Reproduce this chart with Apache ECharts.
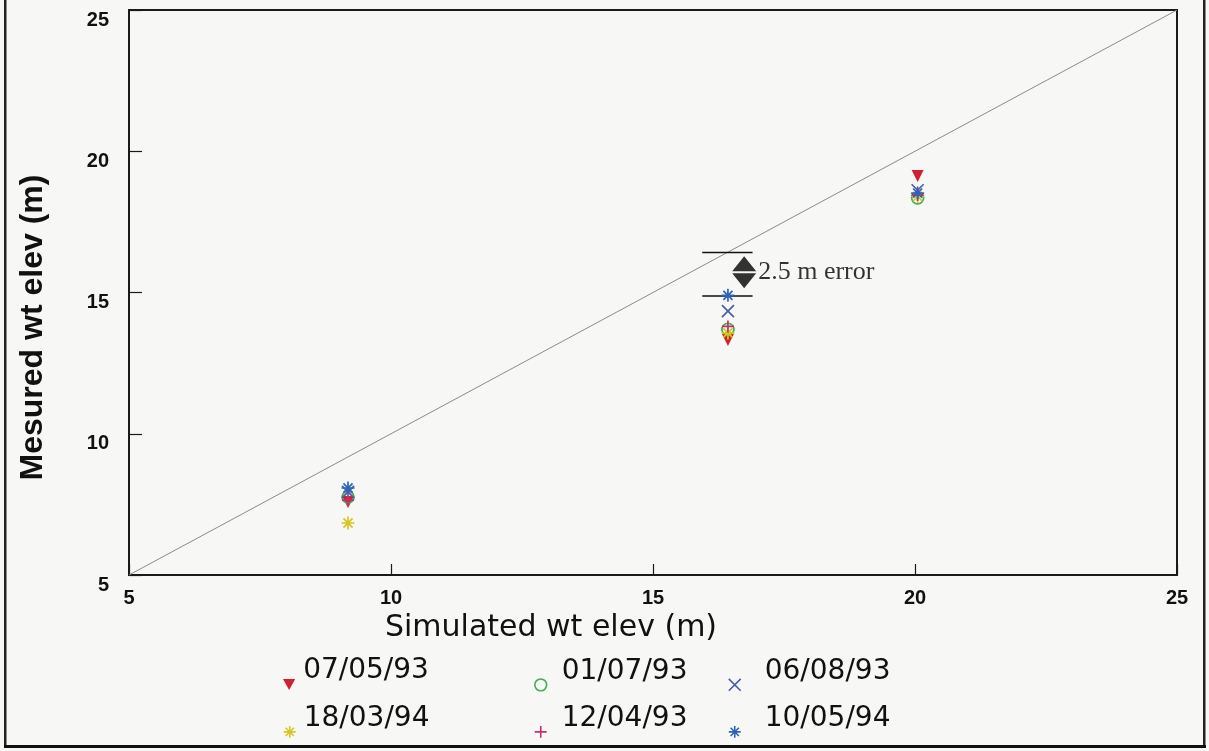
<!DOCTYPE html>
<html>
<head>
<meta charset="utf-8">
<script src="https://cdn.jsdelivr.net/npm/echarts@6/dist/echarts.min.js"></script>
<style>
html,body{margin:0;padding:0;background:#f7f8f6;}
#c{width:1209px;height:751px;}
</style>
</head>
<body>
<div id="c"></div>
<script>
// ---- data ----
const axisTicks = [5, 10, 15, 20, 25];
const seriesNames = ['07/05/93', '01/07/93', '06/08/93', '18/03/94', '12/04/93', '10/05/94'];
const simulated = [9.18, 16.43, 20.05];
const meas_070593 = [7.58, 13.32, 19.12];
const meas_010793 = [7.76, 13.70, 18.35];
const meas_060893 = [7.94, 14.34, 18.62];
const meas_180394 = [6.84, 13.57, 18.40];
const meas_120493 = [7.65, 13.80, 18.45];
const meas_100594 = [8.08, 14.90, 18.52];
const oneToOne = [[5, 5], [25, 25]];
const errUpper = [[15.94, 16.42], [16.90, 16.42]];
const errLower = [[15.94, 14.88], [16.90, 14.88]];
const errMarker = [[16.74, 15.72]];
const errLabel = '2.5 m error';

const measured = [meas_070593, meas_010793, meas_060893, meas_180394, meas_120493, meas_100594];
const colors = ['#d1202f', '#3fae55', '#4a5cab', '#d9c521', '#c4306b', '#2f63b6'];
const shapes = [
  'M0,0L10,0L5,9Z',
  'M10,5A5,5 0 1 1 0,5A5,5 0 1 1 10,5Z',
  'M0,0L10,10M10,0L0,10',
  'M5,0L5,10M0,5L10,5M1.5,1.5L8.5,8.5M8.5,1.5L1.5,8.5',
  'M5,0L5,10M0,5L10,5',
  'M5,0L5,10M0,5L10,5M1.5,1.5L8.5,8.5M8.5,1.5L1.5,8.5'
];
const fills = [true, false, false, false, false, false];
const sizes = [12, 12, 12, 13, 12, 13];
// legend slots
const legendLeft = [283, 534, 728, 283, 534, 728];
const legendTop = [652, 652, 652, 699, 699, 699];
const legendTextGap = [2, 9, 18, 2, 9, 18];

const chart = echarts.init(document.getElementById('c'), null, {renderer: 'canvas'});

const scatterSeries = seriesNames.map((n, i) => ({
  name: n,
  type: 'scatter',
  symbol: 'path://' + shapes[i],
  symbolSize: sizes[i],
  itemStyle: {color: fills[i] ? colors[i] : 'transparent', borderColor: colors[i], borderWidth: fills[i] ? 0 : 1.7, opacity: 1},
  data: simulated.map((x, k) => [x, measured[i][k]]),
  z: 5
}));

const lineSeries = [
  {type: 'line', data: oneToOne, symbol: 'none', lineStyle: {color: '#8a8a8a', width: 1}, silent: true, z: 2},
  {type: 'line', data: errUpper, symbol: 'none', lineStyle: {color: '#111', width: 1.5}, silent: true, z: 3},
  {type: 'line', data: errLower, symbol: 'none', lineStyle: {color: '#111', width: 1.5}, silent: true, z: 3},
  {type: 'scatter', data: errMarker, symbol: 'path://M12,0L24,15L0,15Z M0,17L24,17L12,32Z', symbolSize: [24, 32],
    itemStyle: {color: '#000'}, silent: true, z: 4,
    label: {show: true, position: 'right', distance: 2, formatter: errLabel, color: '#000',
      fontFamily: 'Liberation Serif', fontSize: 26}}
];

// legend icons: an invisible move-to above the shape drops the visible symbol to the text baseline
const legends = seriesNames.map((n, i) => ({
  data: [{
    name: n,
    icon: 'path://M5,-22 ' + shapes[i],
    itemStyle: {color: fills[i] ? colors[i] : 'transparent', borderColor: colors[i], borderWidth: fills[i] ? 0 : 1.6}
  }],
  left: legendLeft[i], top: legendTop[i], itemWidth: 14, itemHeight: 38, symbolKeepAspect: true,
  textStyle: {fontFamily: 'DejaVu Sans', fontSize: 28, color: '#111', lineHeight: 30,
    padding: [0, 0, 0, legendTextGap[i]]},
  selectedMode: false, padding: 0
}));

const option = {
  backgroundColor: '#f7f8f6',
  animation: false,
  grid: {left: 129, right: 32, top: 10, bottom: 176, show: true, borderColor: '#1a1a1a', borderWidth: 2},
  xAxis: {
    type: 'value', min: axisTicks[0], max: axisTicks[axisTicks.length - 1], interval: 5,
    name: 'Simulated wt elev (m)', nameLocation: 'middle', nameGap: 30,
    nameTextStyle: {fontFamily: 'DejaVu Sans', fontSize: 30, color: '#111', padding: [0, 204, 0, 0]},
    axisLine: {show: true, lineStyle: {color: '#1a1a1a', width: 2}},
    axisTick: {show: true, inside: true, length: 11, lineStyle: {color: '#1a1a1a', width: 1.2}},
    axisLabel: {margin: 13, color: '#111', fontFamily: 'Liberation Sans', fontWeight: 'bold', fontSize: 20},
    splitLine: {show: false}
  },
  yAxis: {
    type: 'value', min: axisTicks[0], max: axisTicks[axisTicks.length - 1], interval: 5,
    name: 'Mesured wt elev (m)', nameLocation: 'middle', nameGap: 80,
    nameTextStyle: {fontFamily: 'Liberation Sans', fontWeight: 'bold', fontSize: 32, color: '#111', padding: [0, 70, 0, 0]},
    axisLine: {show: true, lineStyle: {color: '#1a1a1a', width: 2}},
    axisTick: {show: true, inside: true, length: 13, lineStyle: {color: '#1a1a1a', width: 1.2}},
    axisLabel: {margin: 20, color: '#111', fontFamily: 'Liberation Sans', fontWeight: 'bold', fontSize: 20, verticalAlign: 'top'},
    splitLine: {show: false}
  },
  legend: legends,
  graphic: [
    {type: 'rect', shape: {x: 4, y: 0, width: 2.5, height: 748}, style: {fill: '#222'}, silent: true},
    {type: 'rect', shape: {x: 1203, y: 0, width: 2.5, height: 748}, style: {fill: '#222'}, silent: true},
    {type: 'rect', shape: {x: 4, y: 745, width: 1202, height: 3}, style: {fill: '#111'}, silent: true}
  ],
  series: lineSeries.concat(scatterSeries)
};
chart.setOption(option);
</script>
</body>
</html>
